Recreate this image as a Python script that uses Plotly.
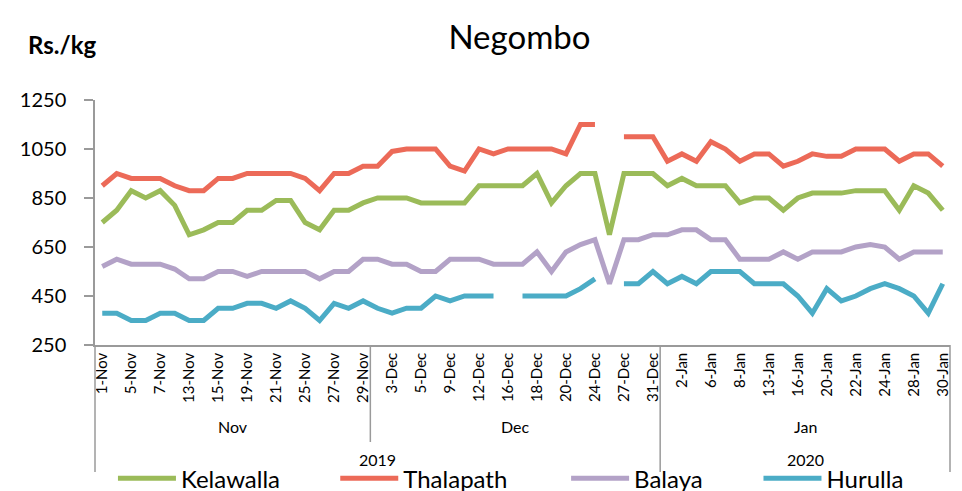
import plotly.graph_objects as go

# ── DATA ─────────────────────────────────────
nov_days = [1, 4, 5, 6, 7, 8, 13, 14, 15, 18, 19, 20, 21, 22, 25, 26, 27, 28, 29]
dec_days = [2, 3, 4, 5, 6, 9, 10, 12, 13, 16, 17, 18, 19, 20, 23, 24, 26, 27, 30, 31]
jan_days = [1, 2, 3, 6, 7, 8, 10, 13, 14, 16, 17, 20, 21, 22, 23, 24, 27, 28, 29, 30]

dates = ([f"{d}-Nov" for d in nov_days] + [f"{d}-Dec" for d in dec_days]
         + [f"{d}-Jan" for d in jan_days])

kelawalla = [750, 800, 880, 850, 880, 820, 700, 720, 750, 750, 800, 800, 840, 840, 750, 720, 800, 800, 830,
             850, 850, 850, 830, 830, 830, 830, 900, 900, 900, 900, 950, 830, 900, 950, 950, 700, 950, 950, 950,
             900, 930, 900, 900, 900, 830, 850, 850, 800, 850, 870, 870, 870, 880, 880, 880, 800, 900, 870, 800]
thalapath = [900, 950, 930, 930, 930, 900, 880, 880, 930, 930, 950, 950, 950, 950, 930, 880, 950, 950, 980,
             980, 1040, 1050, 1050, 1050, 980, 960, 1050, 1030, 1050, 1050, 1050, 1050, 1030, 1150, 1150, None,
             1100, 1100, 1100,
             1000, 1030, 1000, 1080, 1050, 1000, 1030, 1030, 980, 1000, 1030, 1020, 1020, 1050, 1050, 1050,
             1000, 1030, 1030, 980]
balaya = [570, 600, 580, 580, 580, 560, 520, 520, 550, 550, 530, 550, 550, 550, 550, 520, 550, 550, 600,
          600, 580, 580, 550, 550, 600, 600, 600, 580, 580, 580, 630, 550, 630, 660, 680, 500, 680, 680, 700,
          700, 720, 720, 680, 680, 600, 600, 600, 630, 600, 630, 630, 630, 650, 660, 650, 600, 630, 630, 630]
hurulla = [380, 380, 350, 350, 380, 380, 350, 350, 400, 400, 420, 420, 400, 430, 400, 350, 420, 400, 430,
           400, 380, 400, 400, 450, 430, 450, 450, 450, None, 450, 450, 450, 450, 480, 520, None, 500, 500, 550,
           500, 530, 500, 550, 550, 550, 500, 500, 500, 450, 380, 480, 430, 450, 480, 500, 480, 450, 380, 500]

series = [
    ("Kelawalla", kelawalla, "#9BBB59"),
    ("Thalapath", thalapath, "#EC6A58"),
    ("Balaya",    balaya,    "#B3A2C7"),
    ("Hurulla",   hurulla,   "#4BACC6"),
]

months = ["Nov", "Dec", "Jan"]
month_sizes = [len(nov_days), len(dec_days), len(jan_days)]
years = [("2019", 0, 2), ("2020", 2, 3)]

FONT = "Lato"
AXIS = "#9a9a9a"
n = len(dates)

fig = go.Figure()

legend_x = [0.021, 0.281, 0.551, 0.776]
for k, (name, vals, col) in enumerate(series):
    lg = "legend" if k == 0 else f"legend{k + 1}"
    fig.add_trace(go.Scatter(
        x=dates, y=vals, name=name, mode="lines",
        line=dict(color=col, width=5),
        legend=lg,
    ))
    fig.update_layout({lg: dict(
        x=legend_x[k], y=-0.545, xanchor="left", yanchor="middle",
        orientation="h", bgcolor="rgba(0,0,0,0)",
        font=dict(family=FONT, size=24, color="#000000"),
        itemwidth=58,
    )})

# ── hierarchical axis: month and year dividers / labels ──
bounds = [0]
for s in month_sizes:
    bounds.append(bounds[-1] + s)

for i, b in enumerate(bounds):
    bottom = -0.396 if i == 1 else -0.518
    fig.add_shape(type="line", xref="paper", yref="paper",
                  x0=b / n, x1=b / n, y0=0, y1=bottom,
                  line=dict(color=AXIS, width=1.5))

for i, m in enumerate(months):
    mid = (bounds[i] + bounds[i + 1] - 1) / 2
    fig.add_annotation(x=mid, y=-0.38, xref="x", yref="paper", text=m,
                       showarrow=False, font=dict(family=FONT, size=16, color="#000000"))

for label, a, b in years:
    mid = (bounds[a] + bounds[b] - 1) / 2
    fig.add_annotation(x=mid, y=-0.515, xref="x", yref="paper", text=label,
                       showarrow=False, font=dict(family=FONT, size=16, color="#000000"))

fig.add_annotation(x=(26 - 95) / 855, y=(345 - 45) / 245, xref="paper", yref="paper",
                   text="<b>Rs./kg</b>", showarrow=False, xanchor="left", yanchor="middle",
                   font=dict(family=FONT, size=24, color="#000000"))

fig.update_layout(
    width=962, height=491,
    margin=dict(l=95, r=12, t=100, b=146, autoexpand=False),
    plot_bgcolor="#ffffff", paper_bgcolor="#ffffff",
    font=dict(family=FONT, color="#000000"),
    title=dict(text="Negombo", x=0.540, xanchor="center", y=0.923, yanchor="middle",
               font=dict(family=FONT, size=33, color="#000000")),
    showlegend=True,
    xaxis=dict(
        type="category", categoryorder="array", categoryarray=dates,
        range=[-0.5, n - 0.5],
        tickmode="array", tickvals=dates[::2], ticktext=dates[::2],
        tickangle=-90, tickfont=dict(family=FONT, size=15, color="#000000"),
        showline=True, linecolor=AXIS, linewidth=1.5,
        showgrid=False, ticks="", zeroline=False,
    ),
    yaxis=dict(
        range=[250, 1250], tick0=250, dtick=200,
        tickfont=dict(family=FONT, size=20, color="#000000"),
        showline=True, linecolor=AXIS, linewidth=1.5,
        ticks="outside", ticklen=9, tickcolor=AXIS, tickwidth=1.5,
        ticklabelstandoff=14,
        showgrid=False, zeroline=False,
    ),
)

# the page body has a default 8px margin; drop it so the figure sits at 0,0
fig.write_html("out.html", config={"displayModeBar": False},
               post_script="document.body.style.margin='0';")
